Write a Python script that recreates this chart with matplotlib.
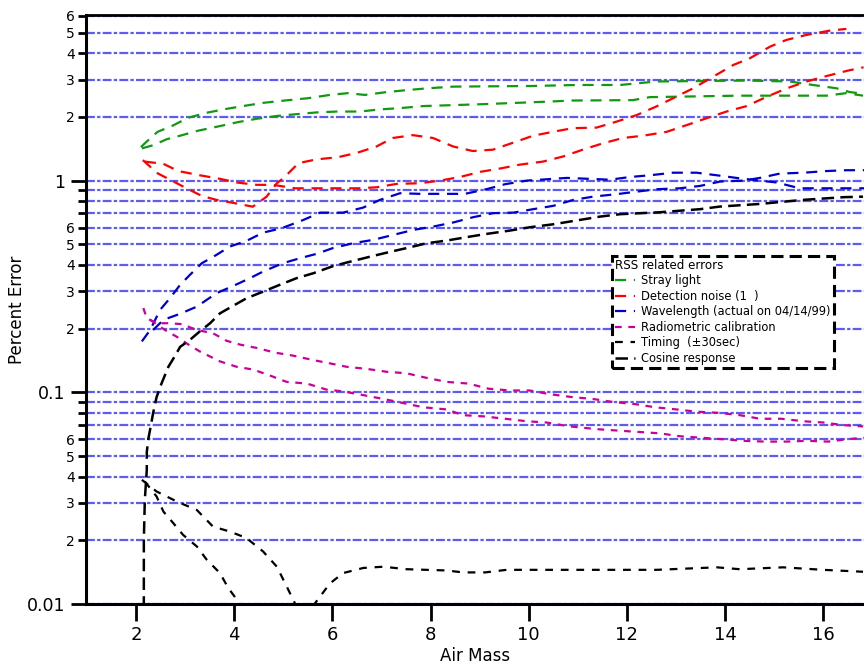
import math
import matplotlib
matplotlib.use("Agg")
import matplotlib.pyplot as plt
from matplotlib.ticker import FixedLocator, FuncFormatter

# stray light (two envelopes)
stray_x_a = [2.10, 2.22, 2.44, 2.75, 3.06, 3.43, 3.83, 4.18, 4.59, 5.03, 5.50, 5.95, 6.32, 6.66, 7.11,
             7.54, 7.95, 8.46, 10.09, 10.98, 11.86, 12.60, 14.44, 15.32, 15.79, 16.27, 16.54, 16.83]
stray_y_a = [1.44, 1.53, 1.70, 1.82, 1.98, 2.09, 2.18, 2.25, 2.33, 2.39, 2.45, 2.54, 2.59, 2.54, 2.62,
             2.68, 2.73, 2.78, 2.80, 2.83, 2.83, 2.94, 2.97, 2.94, 2.83, 2.73, 2.62, 2.57]
stray_x_b = [2.12, 2.35, 2.63, 2.90, 3.26, 3.71, 4.08, 4.46, 4.87, 5.27, 5.68, 6.09, 6.56, 6.97, 7.38,
             7.85, 9.14, 10.36, 10.90, 12.12, 12.47, 14.30, 16.07, 16.47, 16.81]
stray_y_b = [1.42, 1.47, 1.57, 1.63, 1.72, 1.81, 1.89, 1.96, 2.02, 2.06, 2.10, 2.12, 2.12, 2.17, 2.20,
             2.25, 2.30, 2.36, 2.39, 2.40, 2.48, 2.52, 2.52, 2.59, 2.52]

# detection noise
noise_x_a = [2.14, 2.35, 2.45, 2.73, 3.03, 3.34, 3.64, 4.02, 4.38, 4.66, 4.87, 5.03, 5.31, 5.68, 6.11,
             6.49, 6.90, 7.23, 7.64, 8.05, 8.46, 8.86, 9.27, 9.68, 10.09, 10.49, 10.90, 11.38, 11.79,
             12.20, 12.60, 12.94, 13.35, 13.76, 14.17, 14.51, 14.92, 15.25, 15.66, 16.13, 16.47]
noise_y_a = [1.25, 1.13, 1.08, 1.00, 0.92, 0.847, 0.811, 0.782, 0.753, 0.840, 0.972, 1.04, 1.21, 1.26,
             1.29, 1.35, 1.45, 1.59, 1.64, 1.59, 1.45, 1.38, 1.40, 1.51, 1.63, 1.70, 1.77, 1.78, 1.90,
             2.04, 2.24, 2.45, 2.73, 3.10, 3.52, 3.79, 4.30, 4.62, 4.88, 5.11, 5.21]
noise_x_b = [2.18, 2.56, 2.86, 3.30, 3.71, 4.05, 4.46, 4.79, 5.24, 5.68, 6.53, 6.90, 7.31, 7.78, 8.19,
             8.60, 9.01, 9.41, 9.82, 10.29, 10.70, 11.10, 11.51, 11.92, 12.33, 12.81, 13.22, 13.62,
             14.03, 14.44, 14.85, 15.26, 15.66, 16.07, 16.48, 16.82]
noise_y_b = [1.23, 1.20, 1.11, 1.06, 1.02, 0.98, 0.955, 0.955, 0.92, 0.92, 0.92, 0.93, 0.965, 0.972,
             1.00, 1.04, 1.10, 1.14, 1.19, 1.23, 1.30, 1.40, 1.50, 1.59, 1.63, 1.70, 1.83, 1.97, 2.12,
             2.25, 2.49, 2.73, 2.94, 3.12, 3.30, 3.43]

# wavelength
wave_x_a = [2.12, 2.29, 2.49, 2.69, 2.90, 3.10, 3.34, 3.64, 3.91, 4.25, 4.59, 4.97, 5.41, 5.75, 6.22,
            6.63, 6.97, 7.38, 7.78, 8.70, 9.14, 9.52, 9.96, 10.78, 11.65, 12.06, 12.47, 12.94, 13.42,
            13.83, 14.23, 14.71, 15.05, 15.52, 16.41, 16.83]
wave_y_a = [0.174, 0.197, 0.245, 0.278, 0.322, 0.359, 0.407, 0.446, 0.488, 0.519, 0.568, 0.596, 0.652,
            0.706, 0.706, 0.746, 0.811, 0.872, 0.866, 0.866, 0.911, 0.962, 1.00, 1.03, 1.01, 1.04,
            1.06, 1.09, 1.09, 1.06, 1.03, 1.00, 0.98, 0.92, 0.92, 0.92]
wave_x_b = [2.35, 2.56, 2.90, 3.24, 3.64, 3.98, 4.32, 4.59, 4.99, 5.34, 5.68, 6.01, 6.42, 6.83, 7.24,
            7.65, 8.06, 8.46, 8.87, 9.28, 9.69, 10.09, 10.50, 10.91, 11.31, 11.79, 12.20, 12.61, 13.08,
            13.49, 13.90, 14.37, 14.71, 15.12, 15.60, 16.07, 16.48, 16.83]
wave_y_b = [0.197, 0.220, 0.235, 0.254, 0.294, 0.318, 0.346, 0.372, 0.407, 0.430, 0.451, 0.480, 0.506,
            0.525, 0.554, 0.585, 0.607, 0.634, 0.672, 0.702, 0.706, 0.733, 0.760, 0.811, 0.840, 0.863,
            0.887, 0.911, 0.92, 0.944, 0.99, 1.00, 1.03, 1.08, 1.09, 1.11, 1.12, 1.12]

# radiometric calibration
radio_x_a = [2.15, 2.22, 2.42, 2.66, 2.93, 3.24, 3.57, 3.85, 4.12, 4.46, 4.83, 5.20, 5.61, 5.95, 6.29,
             6.70, 7.11, 7.51, 7.92, 8.33, 8.77, 9.18, 9.62, 10.02, 10.43, 10.87, 11.31, 11.72, 12.16,
             12.57, 13.01, 13.42, 13.86, 14.30, 14.71, 15.15, 15.59, 16.00, 16.41, 16.81]
radio_y_a = [0.250, 0.224, 0.212, 0.212, 0.210, 0.197, 0.190, 0.175, 0.168, 0.162, 0.154, 0.149, 0.142,
             0.137, 0.132, 0.129, 0.125, 0.123, 0.117, 0.112, 0.110, 0.104, 0.102, 0.102, 0.098, 0.095,
             0.093, 0.090, 0.088, 0.085, 0.083, 0.081, 0.080, 0.078, 0.075, 0.075, 0.073, 0.072, 0.070,
             0.069]
radio_x_b = [2.29, 2.59, 2.83, 3.07, 3.30, 3.71, 4.05, 4.39, 4.73, 5.07, 5.48, 5.88, 6.22, 6.63, 7.04,
             7.44, 7.85, 8.33, 8.66, 9.07, 9.52, 9.96, 10.36, 10.84, 11.38, 11.79, 12.23, 12.67, 13.08,
             13.52, 13.96, 14.37, 14.81, 15.26, 15.66, 16.10, 16.48, 16.83]
radio_y_b = [0.220, 0.197, 0.183, 0.168, 0.156, 0.140, 0.132, 0.128, 0.120, 0.112, 0.110, 0.103, 0.101,
             0.097, 0.093, 0.089, 0.085, 0.083, 0.078, 0.077, 0.075, 0.073, 0.072, 0.069, 0.067, 0.066,
             0.065, 0.064, 0.062, 0.061, 0.060, 0.059, 0.0585, 0.0585, 0.059, 0.0585, 0.060, 0.061]

# timing (+-30 sec)
timing_x_a = [2.12, 2.42, 2.83, 3.24, 3.57, 3.91, 4.25, 4.59, 4.87, 5.07, 5.20, 5.34, 5.54, 5.65, 5.95,
              6.22, 6.63, 7.04, 7.51, 8.33, 8.66, 9.11, 9.55, 10.43, 11.72, 12.60, 13.83, 14.30, 15.18,
              16.00, 16.81]
timing_y_a = [0.0386, 0.0340, 0.0305, 0.0278, 0.0232, 0.0220, 0.0205, 0.0177, 0.0150, 0.0121, 0.0105,
              0.0090, 0.0090, 0.0101, 0.0125, 0.0140, 0.0148, 0.0150, 0.0146, 0.0144, 0.0141, 0.0141,
              0.0145, 0.0145, 0.0145, 0.0145, 0.0149, 0.0146, 0.0149, 0.0145, 0.0142]
timing_x_b = [2.18, 2.42, 2.56, 2.76, 2.96, 3.24, 3.44, 3.71, 3.88, 4.08, 4.30]
timing_y_b = [0.0379, 0.0322, 0.0273, 0.0241, 0.0212, 0.0187, 0.0162, 0.0140, 0.0119, 0.0103, 0.0085]

# cosine response
cosine_x = [2.16, 2.16, 2.18, 2.22, 2.22, 2.25, 2.30, 2.35, 2.42, 2.52, 2.66, 2.79, 2.90, 3.10, 3.30,
            3.51, 3.71, 3.95, 4.25, 4.59, 4.93, 5.27, 5.61, 6.02, 6.36, 6.73, 7.11, 7.51, 7.92, 8.33,
            8.74, 9.14, 9.62, 10.02, 10.50, 11.04, 11.45, 11.86, 12.67, 13.49, 13.89, 14.71, 15.59,
            16.41, 16.81]
cosine_y = [0.0095, 0.020, 0.031, 0.043, 0.052, 0.060, 0.069, 0.080, 0.095, 0.110, 0.132, 0.148, 0.164,
            0.177, 0.194, 0.212, 0.236, 0.254, 0.278, 0.299, 0.322, 0.346, 0.365, 0.395, 0.414, 0.435,
            0.457, 0.480, 0.506, 0.521, 0.541, 0.560, 0.581, 0.602, 0.622, 0.652, 0.676, 0.694, 0.709,
            0.733, 0.754, 0.776, 0.811, 0.835, 0.840]

legend_labels = ["Stray light", "Detection noise (1  )", "Wavelength (actual on 04/14/99)",
                 "Radiometric calibration", "Timing  (\u00b130sec)", "Cosine response"]
x_ticks = [2, 4, 6, 8, 10, 12, 14, 16]
major_y = [0.01, 0.1, 1]
major_labels = ["0.01", "0.1", "1"]

fig = plt.figure(figsize=(8.64, 6.66), dpi=100)
ax = fig.add_axes([0.0992, 0.0931, 0.9008, 0.8844])
ax.set_yscale("log")
ax.set_xlim(0.976, 16.83)
ax.set_ylim(0.01, 6.06)

dash = (0, (5, 3.5))
lw = 1.6
ax.plot(stray_x_a, stray_y_a, color="#119911", lw=lw, ls=dash, label=legend_labels[0])
ax.plot(stray_x_b, stray_y_b, color="#119911", lw=lw, ls=dash)
ax.plot(noise_x_a, noise_y_a, color="#ff0000", lw=lw, ls=dash, label=legend_labels[1])
ax.plot(noise_x_b, noise_y_b, color="#ff0000", lw=lw, ls=dash)
ax.plot(wave_x_a, wave_y_a, color="#0000cc", lw=lw, ls=dash, label=legend_labels[2])
ax.plot(wave_x_b, wave_y_b, color="#0000cc", lw=lw, ls=dash)
ax.plot(radio_x_a, radio_y_a, color="#cc0099", lw=lw, ls=(0, (3, 3)), label=legend_labels[3])
ax.plot(radio_x_b, radio_y_b, color="#cc0099", lw=lw, ls=(0, (3, 3)))
ax.plot(timing_x_a, timing_y_a, color="black", lw=lw, ls=(0, (3.5, 3.5)), label=legend_labels[4])
ax.plot(timing_x_b, timing_y_b, color="black", lw=lw, ls=(0, (3.5, 3.5)))
ax.plot(cosine_x, cosine_y, color="black", lw=1.8, ls=(0, (5, 2.5)), label=legend_labels[5])

# y ticks: decades labelled big, mantissas 2-6 labelled small
minor_y = [m * d for d in major_y for m in range(2, 10) if m * d < 6.06]
ax.yaxis.set_major_locator(FixedLocator(major_y))
ax.yaxis.set_major_formatter(FuncFormatter(lambda v, p: major_labels[major_y.index(min(major_y, key=lambda d: abs(d - v)))]))
ax.yaxis.set_minor_locator(FixedLocator(minor_y))


def minor_fmt(v, p):
    m = round(v / 10 ** math.floor(math.log10(v) + 1e-9))
    return str(m) if m <= 6 else ""


ax.yaxis.set_minor_formatter(FuncFormatter(minor_fmt))
ax.tick_params(axis="y", which="major", length=11, width=2, labelsize=12.5, pad=4)
ax.tick_params(axis="y", which="minor", length=6, width=2, labelsize=10, pad=2)
ax.set_xticks(x_ticks)
ax.tick_params(axis="x", which="major", length=12, width=2, labelsize=13, pad=4)
ax.tick_params(axis="x", which="minor", length=0)

ax.set_axisbelow(True)
ax.yaxis.grid(True, which="both", color="#5c5cf5", lw=1.6, ls=(0, (4, 1, 1.5, 1)))
ax.xaxis.grid(False)

for s in ["left", "bottom"]:
    ax.spines[s].set_linewidth(2.2)
ax.spines["top"].set_linewidth(2)
ax.spines["right"].set_visible(False)

ax.set_xlabel("Air Mass", fontsize=12, labelpad=2)
ax.set_ylabel("Percent Error", fontsize=12)
ax.yaxis.set_label_coords(-0.077, 0.5)

leg = ax.legend(loc="upper left", bbox_to_anchor=(0.676, 0.591), borderaxespad=0,
                title="RSS related errors", fontsize=8.3, title_fontsize=8.6, handlelength=1.8,
                handletextpad=0.5, labelspacing=0.22, borderpad=0.25, fancybox=False,
                framealpha=1, edgecolor="black")
leg._legend_box.align = "left"
leg.get_frame().set_linewidth(2.2)
leg.get_frame().set_linestyle((0, (4, 2)))

fig.savefig("out.png", dpi=100)
